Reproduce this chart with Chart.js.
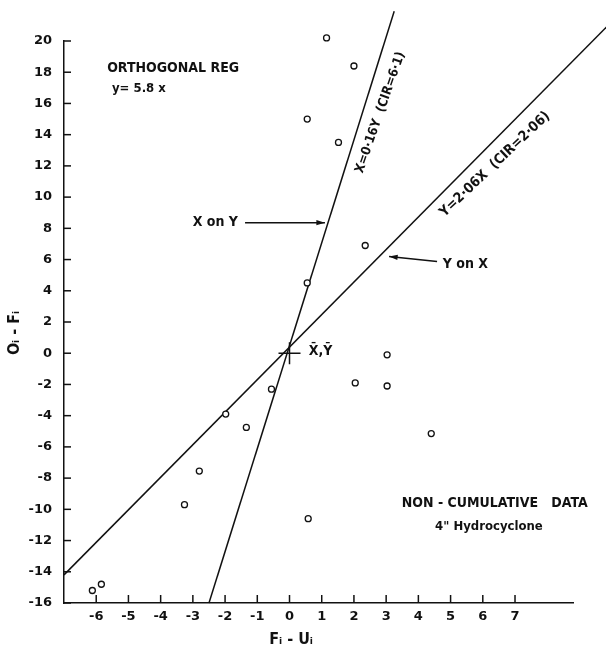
<!DOCTYPE html>
<html>
<head>
<meta charset="utf-8">
<script src="https://cdn.jsdelivr.net/npm/chart.js@4.4.1/dist/chart.umd.min.js"></script>
<style>
  body { margin: 0; background: #fff; }
</style>
</head>
<body>
<canvas id="myScatterChart" width="606" height="654"></canvas>
<script>
// observed points (Fi - Ui, Oi - Fi)
const pointX = [1.15, 2.0, 0.55, 1.52, 2.35, 0.55, 3.03, 2.04, 3.03, 4.4, 0.58, -0.56, -1.98, -1.34, -2.8, -3.26, -6.12, -5.84];
const pointY = [20.2, 18.4, 15.0, 13.5, 6.9, 4.5, -0.1, -1.9, -2.1, -5.15, -10.6, -2.3, -3.9, -4.75, -7.55, -9.7, -15.2, -14.8];

// regression lines, end points
const yOnXLineX = [-7, 9.84];
const yOnXLineY = [-14.2, 20.9];
const xOnYLineX = [-2.5, 3.25];
const xOnYLineY = [-16, 21.9];

// mean point X,Y
const meanX = [0];
const meanY = [0];

const xTicks = [-6, -5, -4, -3, -2, -1, 0, 1, 2, 3, 4, 5, 6, 7];
const yTicks = [-16, -14, -12, -10, -8, -6, -4, -2, 0, 2, 4, 6, 8, 10, 12, 14, 16, 18, 20];

const toXY = (xs, ys) => xs.map((v, i) => ({ x: v, y: ys[i] }));

const ink = '#111';
const tickFont = { family: 'DejaVu Sans', size: 13, weight: 'bold' };

// draws inside tick marks, labels, arrows, axis titles
const notesPlugin = {
  id: 'notes',
  afterDraw(chart) {
    const ctx = chart.ctx;
    const sx = chart.scales.x, sy = chart.scales.y;
    const px = v => sx.getPixelForValue(v);
    const py = v => sy.getPixelForValue(v);
    ctx.save();
    ctx.strokeStyle = ink;
    ctx.fillStyle = ink;
    ctx.lineWidth = 1.5;

    // tick marks pointing in
    yTicks.forEach(v => {
      ctx.beginPath(); ctx.moveTo(sx.left, py(v)); ctx.lineTo(sx.left + 7, py(v)); ctx.stroke();
    });
    xTicks.forEach(v => {
      ctx.beginPath(); ctx.moveTo(px(v), sy.bottom); ctx.lineTo(px(v), sy.bottom - 8); ctx.stroke();
    });

    const text = (s, x, y, size, align, rot) => {
      ctx.save();
      ctx.translate(x, y);
      if (rot) ctx.rotate(rot * Math.PI / 180);
      ctx.font = 'bold ' + size + 'px "DejaVu Sans Condensed", "DejaVu Sans", sans-serif';
      ctx.textAlign = align || 'left';
      ctx.textBaseline = 'middle';
      ctx.fillText(s, 0, 0);
      ctx.restore();
    };
    const arrow = (x1, y1, x2, y2) => {
      ctx.beginPath(); ctx.moveTo(x1, y1); ctx.lineTo(x2, y2); ctx.stroke();
      const a = Math.atan2(y2 - y1, x2 - x1);
      ctx.beginPath();
      ctx.moveTo(x2, y2);
      ctx.lineTo(x2 - 9 * Math.cos(a - 0.3), y2 - 9 * Math.sin(a - 0.3));
      ctx.lineTo(x2 - 9 * Math.cos(a + 0.3), y2 - 9 * Math.sin(a + 0.3));
      ctx.closePath(); ctx.fill();
    };

    text('ORTHOGONAL REG', px(-5.66), py(18.25), 14);
    text('y= 5.8 x', px(-5.51), py(16.96), 13);

    text('X on Y', px(-1.6), py(8.36), 14, 'right');
    arrow(px(-1.38), py(8.36), px(1.1), py(8.36));
    text('Y on X', px(4.76), py(5.68), 14);
    arrow(px(4.58), py(5.87), px(3.09), py(6.19));

    text('X\u0304,Y\u0304', px(0.6), py(0.1), 14);

    text('X=0\u00b716Y  (CIR=6\u00b71)', px(2.82), py(15.42), 13, 'center', -70.7);
    text('Y=2\u00b706X  (CIR=2\u00b706)', px(6.38), py(12.1), 14, 'center', -43.5);

    text('NON - CUMULATIVE   DATA', px(6.37), py(-9.63), 14, 'center');
    text('4" Hydrocyclone', px(6.19), py(-11.1), 13, 'center');

    // axis titles
    text('F\u1d62 - U\u1d62', px(0.05), 640, 16, 'center');
    text('O\u1d62 - F\u1d62', 15, py(1.3), 16, 'center', -90);
    ctx.restore();
  }
};

const scatterData = {
  datasets: [{
    type: 'scatter',
    label: 'data',
    data: toXY(pointX, pointY),
    pointStyle: 'circle',
    pointRadius: 3,
    borderColor: ink,
    backgroundColor: '#fff',
    borderWidth: 1.3,
    clip: false
  }, {
    type: 'line',
    label: 'Y on X',
    data: toXY(yOnXLineX, yOnXLineY),
    borderColor: ink,
    borderWidth: 1.5,
    pointRadius: 0,
    clip: false
  }, {
    type: 'line',
    label: 'X on Y',
    data: toXY(xOnYLineX, xOnYLineY),
    borderColor: ink,
    borderWidth: 1.5,
    pointRadius: 0,
    clip: false
  }, {
    type: 'scatter',
    label: 'mean',
    data: toXY(meanX, meanY),
    pointStyle: 'cross',
    pointRadius: 11,
    borderColor: ink,
    borderWidth: 1.5
  }]
};

const scatterConfig = {
  type: 'scatter',
  data: scatterData,
  options: {
    responsive: false,
    animation: false,
    layout: { padding: { top: 41, right: 33, left: 0, bottom: 0 } },
    plugins: { legend: { display: false }, tooltip: { enabled: false } },
    scales: {
      x: {
        type: 'linear',
        min: -7,
        max: 8.8,
        afterBuildTicks: axis => { axis.ticks = xTicks.map(v => ({ value: v })); },
        afterFit: axis => { axis.height = 51; },
        grid: { display: false, drawTicks: false },
        border: { display: true, color: ink, width: 1.5 },
        ticks: { color: ink, font: tickFont, padding: 6, maxRotation: 0, autoSkip: false }
      },
      y: {
        type: 'linear',
        min: -16,
        max: 20,
        afterBuildTicks: axis => { axis.ticks = yTicks.map(v => ({ value: v })); },
        afterFit: axis => { axis.width = 64; },
        grid: { display: false, drawTicks: false },
        border: { display: true, color: ink, width: 1.5 },
        ticks: { color: ink, font: tickFont, padding: 12, autoSkip: false }
      }
    }
  },
  plugins: [notesPlugin]
};

const myScatterChart = new Chart(document.getElementById('myScatterChart'), scatterConfig);
</script>
</body>
</html>
